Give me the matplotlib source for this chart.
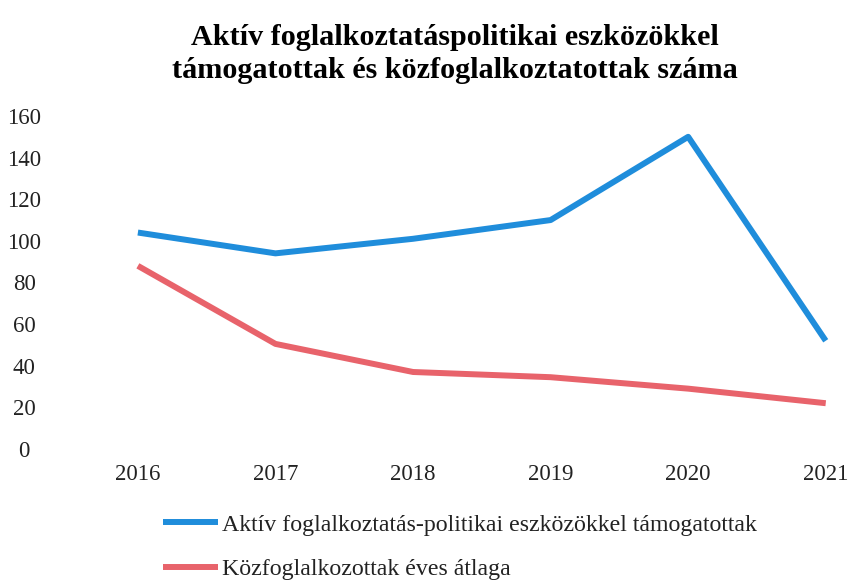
import matplotlib.pyplot as plt

# adatok
evek = [2016, 2017, 2018, 2019, 2020, 2021]
aktiv = [104, 94, 101, 110, 150, 52]
kozfoglalkoztatott = [88, 50.5, 37, 34.5, 29, 22]
y_ticks = [0, 20, 40, 60, 80, 100, 120, 140, 160]

plt.rcParams['font.family'] = ['Liberation Serif', 'DejaVu Serif']

fig = plt.figure(figsize=(8.51, 5.84), dpi=100)
ax = fig.add_axes([120 / 851, (584 - 449) / 584, (845 - 120) / 851, (449 - 116) / 584])

ax.plot(evek, aktiv, color='#1f8ddb', linewidth=4.3, solid_capstyle='butt',
        label='Aktív foglalkoztatás-politikai eszközökkel támogatottak')
ax.plot(evek, kozfoglalkoztatott, color='#e8636b', linewidth=4.3, solid_capstyle='butt',
        label='Közfoglalkozottak éves átlaga')

ax.set_xlim(2015.87, 2021.14)
ax.set_ylim(0, 160)
ax.set_xticks(evek)
ax.set_yticks(y_ticks)
for s in ax.spines.values():
    s.set_visible(False)
ax.tick_params(axis='both', length=0, labelsize=16.5, colors='#222222')
ax.tick_params(axis='x', pad=11)
ax.tick_params(axis='y', pad=69)
for t in ax.get_yticklabels():
    t.set_horizontalalignment('center')

fig.text(0.535, 1 - 54 / 584,
         'Aktív foglalkoztatáspolitikai eszközökkel\ntámogatottak és közfoglalkoztatottak száma',
         fontsize=21.7, fontweight='bold', ha='center', va='center', linespacing=1.32)

leg = ax.legend(loc='upper left', bbox_to_anchor=(163 / 851, 1 - 514 / 584),
                bbox_transform=fig.transFigure, frameon=False, fontsize=17.2,
                handlelength=2.3, handletextpad=0.15, labelspacing=0.95,
                borderaxespad=0, borderpad=0)
for t in leg.get_texts():
    t.set_color('#222222')

plt.savefig('out.png', dpi=100)
